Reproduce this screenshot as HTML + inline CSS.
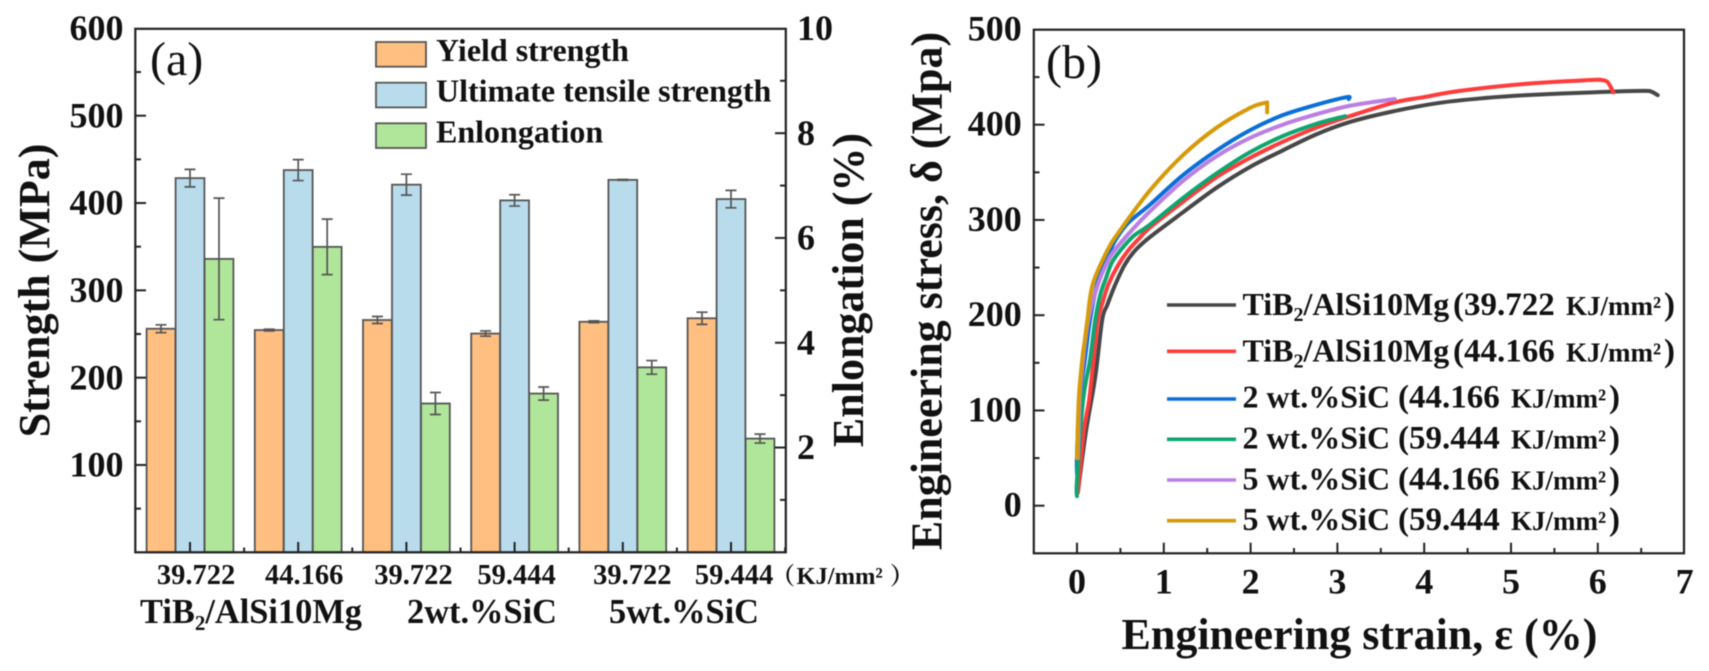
<!DOCTYPE html>
<html lang="en">
<head>
<meta charset="utf-8">
<title>Strength and stress-strain charts</title>
<style>
html,body{margin:0;padding:0;background:#fff;}
body{width:1709px;height:671px;overflow:hidden;}
svg{display:block;filter:blur(0.5px);}
text{font-family:"Liberation Serif","Noto Serif CJK SC",serif;font-weight:bold;fill:#111;}
.tick{font-size:36px;}
.title{font-size:44px;}
.cat{font-size:28.5px;}
.grp{font-size:34.4px;}
.leg{font-size:32px;}
.unit{font-size:27px;}
.par{font-size:33px;}
</style>
</head>
<body>
<svg id="fig" xmlns="http://www.w3.org/2000/svg" width="1709" height="671" viewBox="0 0 1709 671">
  <g id="a-marks"></g>
  <g id="a-axes"></g>
  <g id="b-marks"></g>
  <g id="b-axes"></g>

  <text x="150" y="75" style="font-size:48px;font-weight:normal">(a)</text>
  <text x="1046" y="78" style="font-size:48px;font-weight:normal">(b)</text>

  <text class="title" text-anchor="middle" transform="translate(49,290.5) rotate(-90)">Strength (MPa)</text>
  <text class="title" text-anchor="middle" transform="translate(863,290) rotate(-90)">Enlongation (%)</text>
  <text class="title" text-anchor="middle" transform="translate(941.5,291) rotate(-90)">Engineering stress, δ (Mpa)</text>
  <text class="title" x="1121.5" y="649">Engineering strain, ε (%)</text>

  <text class="grp" x="140" y="623">TiB<tspan dy="7" font-size="21">2</tspan><tspan dy="-7">/AlSi10Mg</tspan></text>
  <text class="grp" x="407" y="623">2wt.%SiC</text>
  <text class="grp" x="609" y="623">5wt.%SiC</text>
  <text x="771" y="584" style="font-size:24px">（</text>
  <text x="796.5" y="584" style="font-size:24.5px">KJ/mm²</text>
  <text x="890" y="584" style="font-size:24px">）</text>

  <g>
    <rect x="376" y="42" width="50" height="24.7" fill="#ffbf80" stroke="#555" stroke-width="1.8"/>
    <rect x="376" y="82.7" width="50" height="24.7" fill="#b8dcec" stroke="#555" stroke-width="1.8"/>
    <rect x="376" y="123.3" width="50" height="24.7" fill="#b0e69a" stroke="#555" stroke-width="1.8"/>
    <text class="leg" x="436" y="61">Yield strength</text>
    <text class="leg" x="436" y="101.7">Ultimate tensile strength</text>
    <text class="leg" x="436" y="142.3">Enlongation</text>
  </g>

  <g>
    <line x1="1167" x2="1236" y1="305" y2="305" stroke="#474747" stroke-width="3.6"/>
    <line x1="1167" x2="1236" y1="351.3" y2="351.3" stroke="#ff3b3b" stroke-width="3.6"/>
    <line x1="1167" x2="1236" y1="399" y2="399" stroke="#0a6fd6" stroke-width="3.6"/>
    <line x1="1167" x2="1236" y1="439.3" y2="439.3" stroke="#0ea56f" stroke-width="3.6"/>
    <line x1="1167" x2="1236" y1="480" y2="480" stroke="#bb7fe3" stroke-width="3.6"/>
    <line x1="1167" x2="1236" y1="520.7" y2="520.7" stroke="#d69a0a" stroke-width="3.6"/>

    <text class="leg" x="1242.5" y="315">TiB<tspan dy="6" font-size="20">2</tspan><tspan dy="-6">/AlSi10Mg</tspan></text>
    <text class="par" x="1453" y="315">(39.722</text>
    <text class="unit" x="1566" y="315">KJ/mm²</text>
    <text class="par" x="1664" y="315">)</text>

    <text class="leg" x="1242.5" y="361.7">TiB<tspan dy="6" font-size="20">2</tspan><tspan dy="-6">/AlSi10Mg</tspan></text>
    <text class="par" x="1453" y="361.7">(44.166</text>
    <text class="unit" x="1566" y="361.7">KJ/mm²</text>
    <text class="par" x="1664" y="361.7">)</text>

    <text class="leg" x="1242.5" y="407.7">2 wt.%SiC</text>
    <text class="par" x="1398" y="407.7">(44.166</text>
    <text class="unit" x="1511" y="407.7">KJ/mm²</text>
    <text class="par" x="1609" y="407.7">)</text>

    <text class="leg" x="1242.5" y="448.3">2 wt.%SiC</text>
    <text class="par" x="1398" y="448.3">(59.444</text>
    <text class="unit" x="1511" y="448.3">KJ/mm²</text>
    <text class="par" x="1609" y="448.3">)</text>

    <text class="leg" x="1242.5" y="489.3">5 wt.%SiC</text>
    <text class="par" x="1398" y="489.3">(44.166</text>
    <text class="unit" x="1511" y="489.3">KJ/mm²</text>
    <text class="par" x="1609" y="489.3">)</text>

    <text class="leg" x="1242.5" y="530">5 wt.%SiC</text>
    <text class="par" x="1398" y="530">(59.444</text>
    <text class="unit" x="1511" y="530">KJ/mm²</text>
    <text class="par" x="1609" y="530">)</text>
  </g>
</svg>
<script>
// ---- Panel (a) data ----
const energyLabels = ['39.722', '44.166', '39.722', '59.444', '39.722', '59.444'];
const yieldValues = [256, 254.5, 266, 250.5, 264, 268];
const yieldErrors = [4.5, 1, 4, 3, 1, 7];
const utsValues = [428.5, 437.7, 421, 403, 426.5, 404.5];
const utsErrors = [10, 12, 12, 6.5, 0.5, 10];
const enlongationValues = [5.6, 5.83, 2.84, 3.03, 3.53, 2.17];
const enlongationErrors = [1.16, 0.53, 0.21, 0.125, 0.13, 0.085];
const strengthTicks = [100, 200, 300, 400, 500, 600];
const strengthMinorTicks = [50, 150, 250, 350, 450, 550];
const enlongationTicks = [2, 4, 6, 8, 10];
const enlongationMinorTicks = [1, 3, 5, 7, 9];

// ---- Panel (b) data ----
const strainTicks = [0, 1, 2, 3, 4, 5, 6, 7];
const strainMinorTicks = [0.5, 1.5, 2.5, 3.5, 4.5, 5.5, 6.5];
const stressTicks = [0, 100, 200, 300, 400, 500];
const stressMinorTicks = [50, 150, 250, 350, 450];

const tib39Strain = [0.01, 0.10, 0.21, 0.29, 0.35, 0.44, 0.55, 0.67, 0.84, 1.22, 1.61, 1.99, 2.37, 2.76, 3.15, 3.64, 4.18, 4.7, 5.18, 5.94, 6.52, 6.62, 6.69];
const tib39Stress = [14, 76, 135, 195, 211, 232, 253, 268, 282, 308, 334, 355.5, 373, 390, 403, 414, 423, 428, 431, 434, 435.5, 434.5, 431];
const tib44Strain = [0.01, 0.08, 0.14, 0.19, 0.24, 0.30, 0.36, 0.47, 0.59, 0.72, 0.84, 1.22, 1.61, 1.99, 2.37, 2.76, 3.11, 3.64, 4.0, 4.41, 5.18, 5.94, 6.03, 6.11, 6.18];
const tib44Stress = [14, 79, 111, 153, 195, 215, 232, 252, 268, 281, 292, 319, 345, 365, 382, 397, 408, 423, 429, 435.5, 443, 447, 447, 445, 434];
const sic2e44Strain = [0, 0, 0.03, 0.09, 0.15, 0.23, 0.30, 0.38, 0.45, 0.59, 0.84, 1.22, 1.61, 1.99, 2.37, 2.76, 3.11, 3.13];
const sic2e44Stress = [34, 55, 111, 153, 195, 232, 252, 267, 280, 297, 316, 347, 373, 394, 410, 421, 429, 427];
const sic2e59Strain = [0, 0, 0.07, 0.15, 0.21, 0.27, 0.33, 0.40, 0.50, 0.65, 0.84, 1.22, 1.61, 1.99, 2.37, 2.76, 3.09];
const sic2e59Stress = [10, 27, 111, 153, 195, 222, 238, 255, 268, 283, 295, 323, 349, 371, 388, 401, 409];
const sic5e44Strain = [0.01, 0.03, 0.07, 0.13, 0.24, 0.35, 0.45, 0.65, 0.84, 1.22, 1.61, 1.99, 2.37, 2.76, 3.15, 3.66];
const sic5e44Stress = [50, 111, 153, 195, 232, 256, 270, 291, 309, 341, 367, 386, 400, 411, 420, 427];
const sic5e59Strain = [0, 0.02, 0.06, 0.09, 0.12, 0.18, 0.35, 0.5, 0.84, 1.22, 1.61, 1.99, 2.17, 2.19, 2.19];
const sic5e59Stress = [50, 111, 153, 174, 195, 232, 268, 289.5, 331, 368, 397, 417.5, 423, 422, 413];

const NS = 'http://www.w3.org/2000/svg';
const AXIS_COLOR = '#222';
const EDGE_COLOR = '#555';

// axis functions
function strengthY(v) { return 552.3 - v * 0.8732; }
function enlongationY(v) { return 552.3 - v * 52.39; }
function groupX(i) { return 190 + 108.2 * i; }
function strainX(v) { return 1077 + v * 86.8; }
function stressY(v) { return 505.7 - v * 0.9525; }

function make(parent, tag, attrs) {
  const el = document.createElementNS(NS, tag);
  for (const k in attrs) el.setAttribute(k, attrs[k]);
  parent.appendChild(el);
  return el;
}

const aMarks = document.getElementById('a-marks');
const aAxes = document.getElementById('a-axes');
const bMarks = document.getElementById('b-marks');
const bAxes = document.getElementById('b-axes');

// ---- bars ----
function drawBarSeries(values, errors, offset, fill, scale, prefix) {
  const w = 28.8;
  values.forEach(function (v, i) {
    const cx = groupX(i) + offset;
    const top = scale(v);
    const bar = make(aMarks, 'rect', { x: cx - w / 2, y: top, width: w, height: 552.3 - top, fill: fill, stroke: EDGE_COLOR, 'stroke-width': 1.8 });
    
    
  });
  values.forEach(function (v, i) {
    const cx = groupX(i) + offset;
    const hi = scale(v + errors[i]);
    const lo = scale(v - errors[i]);
    const err = make(aMarks, 'path', {
      d: 'M' + (cx - 5.5) + ' ' + hi + 'H' + (cx + 5.5) + 'M' + cx + ' ' + hi + 'V' + lo + 'M' + (cx - 5.5) + ' ' + lo + 'H' + (cx + 5.5),
      fill: 'none', stroke: EDGE_COLOR, 'stroke-width': 1.7
    });
    
    
  });
}
drawBarSeries(yieldValues, yieldErrors, -29, '#ffbf80', strengthY, 'yield');
drawBarSeries(enlongationValues, enlongationErrors, 29, '#b0e69a', enlongationY, 'enlongation');
drawBarSeries(utsValues, utsErrors, 0, '#b8dcec', strengthY, 'uts');

// ---- curves ----
function curvePath(xs, ys) {
  const p = xs.map(function (x, i) { return [strainX(x), stressY(ys[i])]; });
  let d = 'M' + p[0][0] + ' ' + p[0][1];
  for (let i = 0; i < p.length - 1; i++) {
    const a = p[Math.max(0, i - 1)], b = p[i], c = p[i + 1], e = p[Math.min(p.length - 1, i + 2)];
    d += 'C' + (b[0] + (c[0] - a[0]) / 6) + ' ' + (b[1] + (c[1] - a[1]) / 6) + ' ' +
         (c[0] - (e[0] - b[0]) / 6) + ' ' + (c[1] - (e[1] - b[1]) / 6) + ' ' + c[0] + ' ' + c[1];
  }
  return d;
}
function drawCurve(xs, ys, color, name) {
  const path = make(bMarks, 'path', { d: curvePath(xs, ys), fill: 'none', stroke: color, 'stroke-width': 4, 'stroke-linejoin': 'round', 'stroke-linecap': 'round' });
  
  
}
drawCurve(tib39Strain, tib39Stress, '#474747', 'curve-tib2-39');
drawCurve(tib44Strain, tib44Stress, '#ff3b3b', 'curve-tib2-44');
drawCurve(sic2e44Strain, sic2e44Stress, '#0a6fd6', 'curve-2wt-44');
drawCurve(sic2e59Strain, sic2e59Stress, '#0ea56f', 'curve-2wt-59');
drawCurve(sic5e44Strain, sic5e44Stress, '#bb7fe3', 'curve-5wt-44');
drawCurve(sic5e59Strain, sic5e59Stress, '#d69a0a', 'curve-5wt-59');

// ---- axes ----
function frame(parent, x1, y1, x2, y2, name) {
  const r = make(parent, 'rect', { x: x1, y: y1, width: x2 - x1, height: y2 - y1, fill: 'none', stroke: AXIS_COLOR, 'stroke-width': 2.2 });
  
  
}
function tickMark(parent, x1, y1, x2, y2, name) {
  const l = make(parent, 'line', { x1: x1, y1: y1, x2: x2, y2: y2, stroke: AXIS_COLOR, 'stroke-width': 2 });
  
  
}
function tickText(parent, x, y, label, anchor, cls, name) {
  const t = make(parent, 'text', { x: x, y: y, 'text-anchor': anchor, class: cls });
  t.textContent = label;
  
  
}

frame(aAxes, 135.3, 28.8, 785.8, 552.3, 'bar-chart-frame');
frame(bAxes, 1033.8, 29.7, 1684, 553.3, 'curve-chart-frame');

strengthTicks.forEach(function (v) {
  const y = strengthY(v);
  if (v < 600) tickMark(aAxes, 135.3, y, 146, y, 'strength-tick');
  tickText(aAxes, 123.5, y + 11.6, String(v), 'end', 'tick', 'strength-tick-label');
});
strengthMinorTicks.forEach(function (v) {
  tickMark(aAxes, 135.3, strengthY(v), 141, strengthY(v), 'strength-minor-tick');
});
enlongationTicks.forEach(function (v) {
  const y = enlongationY(v);
  if (v < 10) tickMark(aAxes, 775, y, 785.8, y, 'enlongation-tick');
  tickText(aAxes, 797, y + 11.6, String(v), 'start', 'tick', 'enlongation-tick-label');
});
enlongationMinorTicks.forEach(function (v) {
  tickMark(aAxes, 780, enlongationY(v), 785.8, enlongationY(v), 'enlongation-minor-tick');
});
energyLabels.forEach(function (label, i) {
  const x = groupX(i);
  tickMark(aAxes, x, 552.3, x, 542, 'energy-tick');
  tickMark(aAxes, x + 54.1, 552.3, x + 54.1, 547.5, 'energy-minor-tick');
  const shift = [6, 6, 7, 2, 9.5, 3][i];
  tickText(aAxes, x + shift, 584, label, 'middle', 'cat', 'energy-tick-label');
});

stressTicks.forEach(function (v) {
  const y = stressY(v);
  if (v < 500) tickMark(bAxes, 1033.8, y, 1044.5, y, 'stress-tick');
  tickText(bAxes, 1021.7, y + 11, String(v), 'end', 'tick', 'stress-tick-label');
});
stressMinorTicks.forEach(function (v) {
  tickMark(bAxes, 1033.8, stressY(v), 1039.5, stressY(v), 'stress-minor-tick');
});
strainTicks.forEach(function (v) {
  const x = strainX(v);
  if (v < 7) tickMark(bAxes, x, 553.3, x, 542.7, 'strain-tick');
  tickText(bAxes, x, 593.3, String(v), 'middle', 'tick', 'strain-tick-label');
});
strainMinorTicks.forEach(function (v) {
  tickMark(bAxes, strainX(v), 553.3, strainX(v), 548, 'strain-minor-tick');
});
</script>
</body>
</html>
